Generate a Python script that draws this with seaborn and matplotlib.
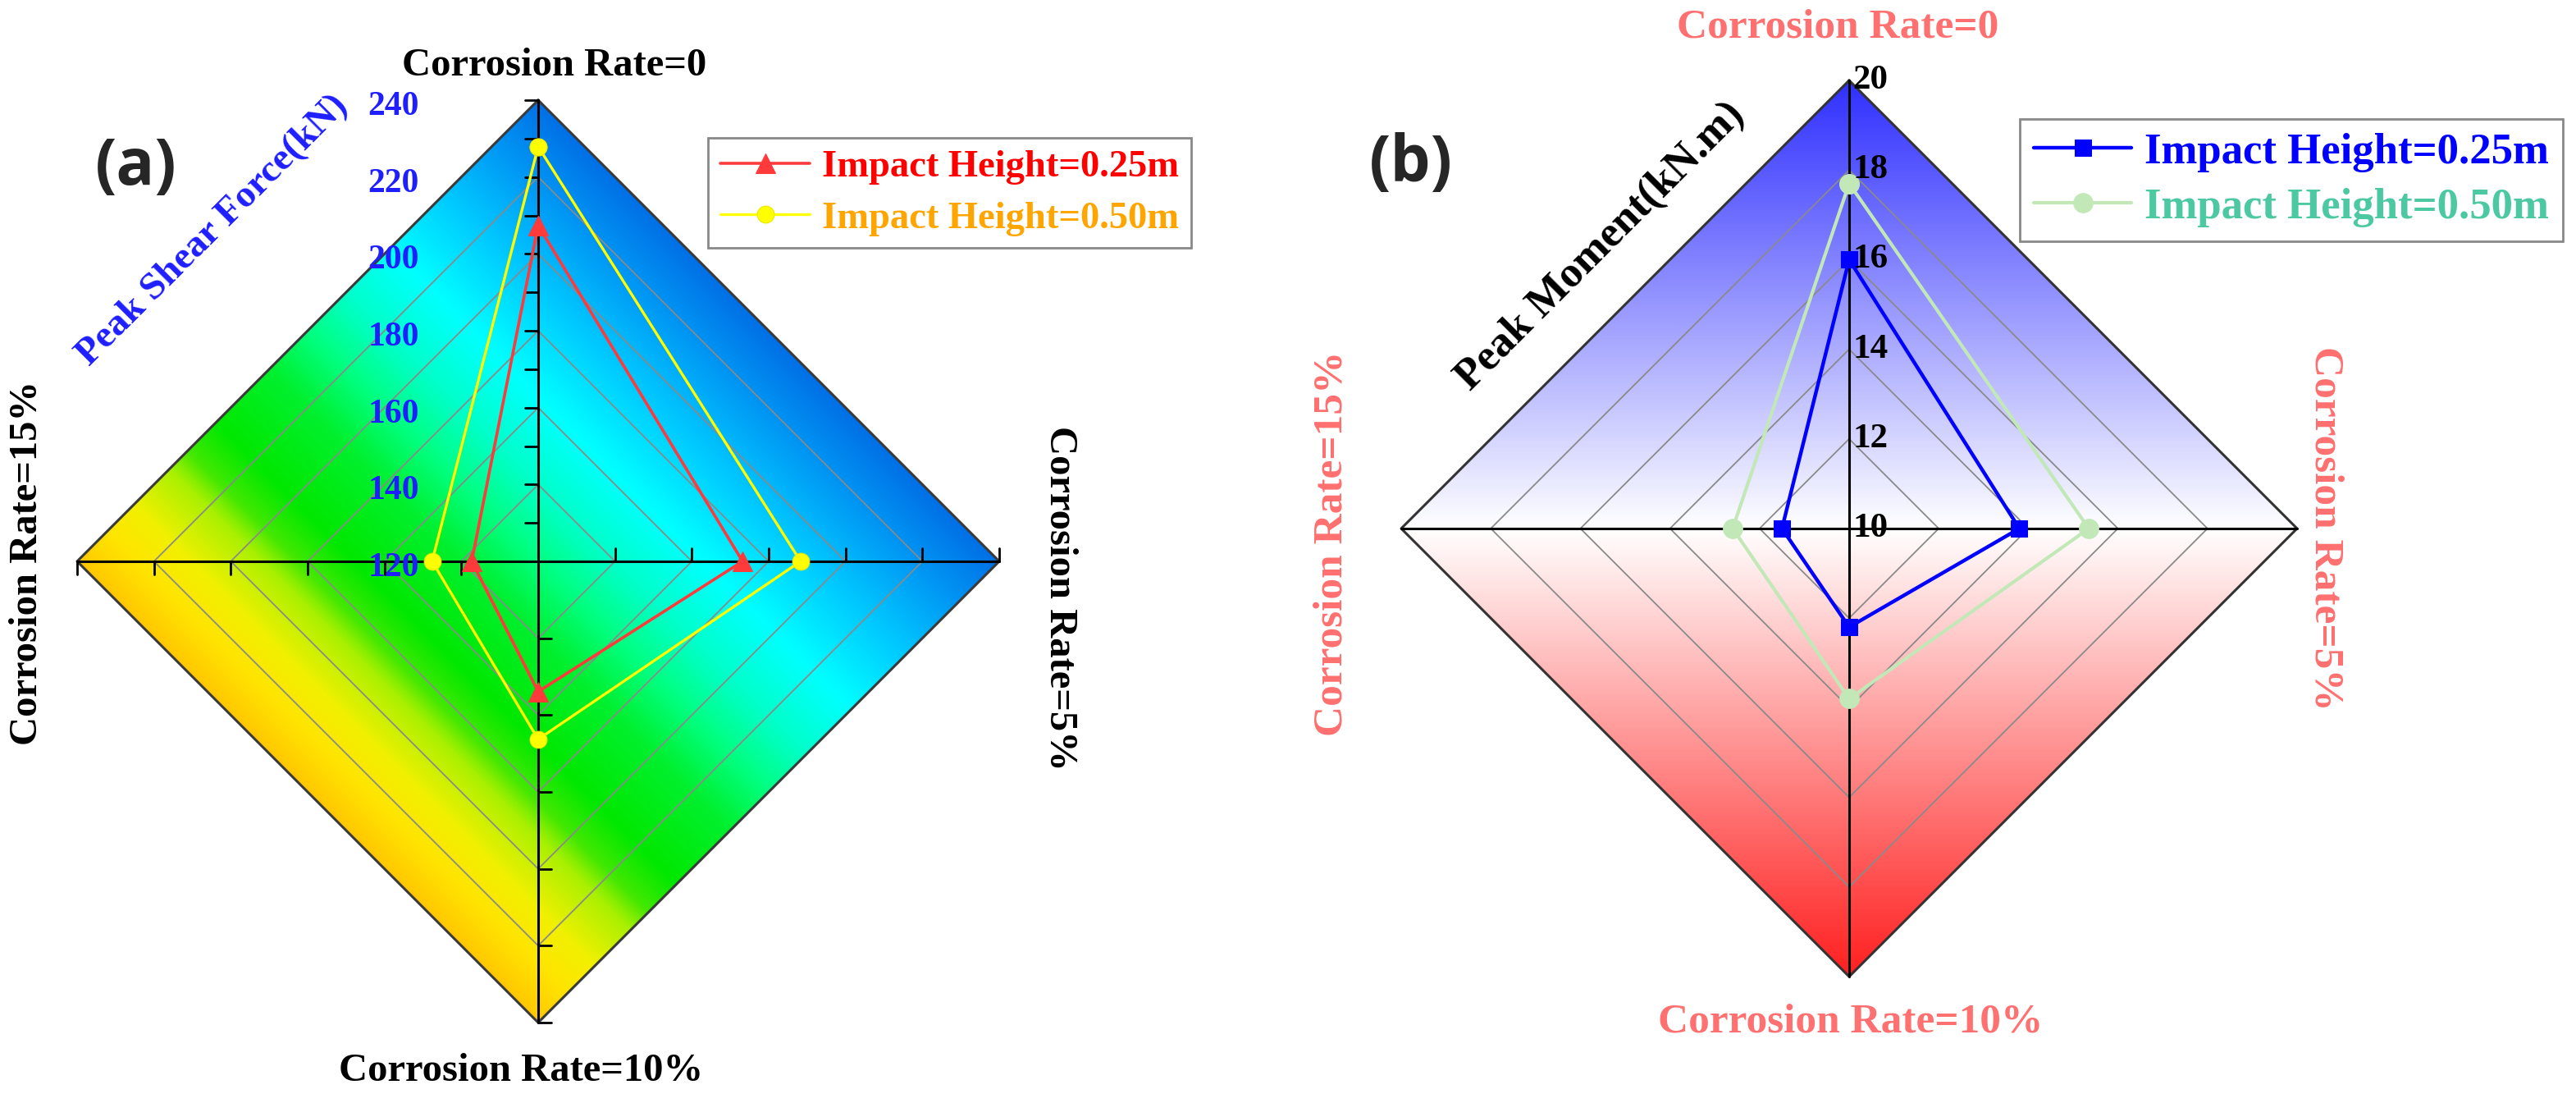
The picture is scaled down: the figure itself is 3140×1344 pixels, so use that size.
import matplotlib
matplotlib.use("Agg")
import matplotlib.pyplot as plt
import numpy as np
import seaborn as sns
from matplotlib.colors import LinearSegmentedColormap
from matplotlib.patches import Polygon

# ---- data ----
# spoke order: top, right, bottom, left
spoke_labels = ["Corrosion Rate=0", "Corrosion Rate=5%", "Corrosion Rate=10%", "Corrosion Rate=15%"]
series_labels = ["Impact Height=0.25m", "Impact Height=0.50m"]

shear_025 = [207.4, 173.2, 153.9, 137.3]
shear_050 = [227.9, 188.3, 166.3, 147.6]
shear_ticks = [120, 140, 160, 180, 200, 220, 240]

moment_025 = [16.0, 13.8, 12.2, 11.5]
moment_050 = [17.7, 15.35, 13.8, 12.6]
moment_ticks = [10, 12, 14, 16, 18, 20]

W, H = 3140, 1344
DIRS = np.array([[0, 1], [1, 0], [0, -1], [-1, 0]], dtype=float)

sns.set_theme(style="white")
plt.rcParams["font.family"] = ["Liberation Serif", "DejaVu Serif"]
plt.rcParams["font.weight"] = "bold"

fig = plt.figure(figsize=(W / 100, H / 100), dpi=100)
fig.patch.set_facecolor("white")


def ftext(px, py, s, **kw):
    kw.setdefault("ha", "center")
    kw.setdefault("va", "center")
    fig.text(px / W, 1 - py / H, s, **kw)


def radar_xy(values, lo, hi):
    r = (np.asarray(values, dtype=float) - lo) / (hi - lo)
    pts = r[:, None] * DIRS
    pts = np.vstack([pts, pts[:1]])
    return pts[:, 0], pts[:, 1]


def diamond(r):
    pts = r * DIRS
    pts = np.vstack([pts, pts[:1]])
    return pts[:, 0], pts[:, 1]


def panel(x0, x1, cx, cy, R, field, cmap, n_rings, ring_col, border_col):
    ax = fig.add_axes([x0 / W, 0, (x1 - x0) / W, 1])
    g = np.linspace(-1, 1, 800)
    X, Y = np.meshgrid(g, g)
    im = ax.imshow(field(X, Y), extent=(-1, 1, -1, 1), origin="lower", cmap=cmap,
                   vmin=0, vmax=1, interpolation="bilinear", zorder=0)
    im.set_clip_path(Polygon(DIRS, closed=True, transform=ax.transData))
    for k in range(1, n_rings):
        ax.plot(*diamond(k / n_rings), color=ring_col, lw=1.3, zorder=1)
    ax.plot(*diamond(1.0), color=border_col, lw=2.2, zorder=2)
    ax.plot([0, 0], [-1, 1], color="black", lw=2.2, zorder=2)
    ax.plot([-1, 1], [0, 0], color="black", lw=2.2, zorder=2)
    ax.set_aspect("auto")
    ax.set_xlim((x0 - cx) / R, (x1 - cx) / R)
    ax.set_ylim((cy - H) / R, cy / R)
    ax.set_axis_off()
    return ax


# ---------------- panel (a) ----------------
cmap_a = LinearSegmentedColormap.from_list("a", [
    (0.00, "#FFC800"), (0.06, "#FFE400"), (0.12, "#F2F000"), (0.20, "#A8F000"),
    (0.24, "#40E800"), (0.30, "#00E800"), (0.42, "#00F030"), (0.50, "#00FF80"),
    (0.58, "#00FFC8"), (0.68, "#00FFFF"), (0.80, "#00C8FF"), (0.90, "#009AF5"),
    (1.00, "#0070E6")])
cxa, cya, Ra = 656, 684, 562
ax_a = panel(0, 1560, cxa, cya, Ra, lambda X, Y: (X + Y + 1) / 2, cmap_a,
             len(shear_ticks) - 1, "#8a8a8a", "#3a3a3a")

lo_a, hi_a = shear_ticks[0], shear_ticks[-1]
nt = len(shear_ticks) - 1
tl = 16 / Ra
# ticks: rotated +90 deg from each spoke
for k in range(1, nt + 1):
    r = k / nt
    for d in DIRS:
        n = np.array([-d[1], d[0]])
        p = r * d
        ax_a.plot([p[0], p[0] + tl * n[0]], [p[1], p[1] + tl * n[1]], color="black", lw=2, zorder=2)
    rm = (k - 0.5) / nt
    ax_a.plot([0, -tl], [rm, rm], color="black", lw=2, zorder=2)

blue_a = "#1E1EFF"
for k, t in enumerate(shear_ticks):
    ax_a.text(-145 / Ra, k / nt - 8 / Ra, str(t), ha="right", va="center",
              color=blue_a, fontsize=30, fontweight="bold", zorder=5)

xs, ys = radar_xy(shear_025, lo_a, hi_a)
sns.lineplot(x=xs, y=ys, sort=False, estimator=None, ax=ax_a, color="#FF3A3A", lw=2.6,
             marker="^", markersize=17, markeredgecolor="#FF3A3A", label=series_labels[0], zorder=4)
xs, ys = radar_xy(shear_050, lo_a, hi_a)
sns.lineplot(x=xs, y=ys, sort=False, estimator=None, ax=ax_a, color="#FFFF00", lw=2.4,
             marker="o", markersize=15, markeredgecolor="#E8E800", label=series_labels[1], zorder=4)

leg = ax_a.legend(loc="upper left", bbox_to_anchor=(863 / W, 1 - 168 / H),
                  bbox_transform=fig.transFigure, prop={"size": 33.5, "weight": "bold"},
                  frameon=True, fancybox=False, edgecolor="#888888", framealpha=1,
                  handlelength=2.35, handletextpad=0.32, borderpad=0.32, labelspacing=0.42,
                  borderaxespad=0, labelcolor=["#FF0000", "#FFA500"])
leg.get_frame().set_linewidth(2)

ftext(166, 205, "(a)", fontsize=56, fontweight="bold", family=["Open Sans", "DejaVu Sans"])
ftext(676, 80, spoke_labels[0], fontsize=35, color="black")
ftext(1292, 729, spoke_labels[1], fontsize=35, color="black", rotation=-90)
ftext(635, 1305, spoke_labels[2], fontsize=35, color="black")
ftext(33, 686, spoke_labels[3], fontsize=35, color="black", rotation=90)
ftext(259, 281, "Peak Shear Force(kN)", fontsize=34, color=blue_a, rotation=45)

# ---------------- panel (b) ----------------
cmap_b = LinearSegmentedColormap.from_list("b", [
    (0.00, "#FF2020"), (0.5, "#FFFFFF"), (1.00, "#3030FF")])
cxb, cyb, Rb = 2254, 644, 546
ax_b = panel(1570, 3140, cxb, cyb, Rb, lambda X, Y: (Y + 1) / 2, cmap_b,
             len(moment_ticks) - 1, "#8a8a8a", "#333333")

lo_b, hi_b = moment_ticks[0], moment_ticks[-1]
nb = len(moment_ticks) - 1
for k, t in enumerate(moment_ticks):
    ax_b.text(4 / Rb, k / nb, str(t), ha="left", va="center",
              color="black", fontsize=31, fontweight="bold", zorder=5)

xs, ys = radar_xy(moment_025, lo_b, hi_b)
sns.lineplot(x=xs, y=ys, sort=False, estimator=None, ax=ax_b, color="#0000FF", lw=3.2,
             marker="s", markersize=15, markeredgecolor="#0000FF", label=series_labels[0], zorder=4)
xs, ys = radar_xy(moment_050, lo_b, hi_b)
sns.lineplot(x=xs, y=ys, sort=False, estimator=None, ax=ax_b, color="#C2E8B8", lw=3.0,
             marker="o", markersize=17, markeredgecolor="#C2E8B8", label=series_labels[1], zorder=4)

leg = ax_b.legend(loc="upper left", bbox_to_anchor=(2462 / W, 1 - 145 / H),
                  bbox_transform=fig.transFigure, prop={"size": 38, "weight": "bold"},
                  frameon=True, fancybox=False, edgecolor="#888888", framealpha=1,
                  handlelength=2.26, handletextpad=0.3, borderpad=0.32, labelspacing=0.36,
                  borderaxespad=0, labelcolor=["#0000FF", "#4CC9A0"])
leg.get_frame().set_linewidth(2)

salmon = "#FF7070"
ftext(1720, 201, "(b)", fontsize=56, fontweight="bold", family=["Open Sans", "DejaVu Sans"])
ftext(2240, 33, spoke_labels[0], fontsize=37, color=salmon)
ftext(2835, 644, spoke_labels[1], fontsize=37, color=salmon, rotation=-90)
ftext(2256, 1246, spoke_labels[2], fontsize=37, color=salmon)
ftext(1624, 662, spoke_labels[3], fontsize=37, color=salmon, rotation=90)
ftext(1951, 300, "Peak Moment(kN.m)", fontsize=38, color="black", rotation=45)

fig.savefig("out.png", dpi=100, facecolor="white")
